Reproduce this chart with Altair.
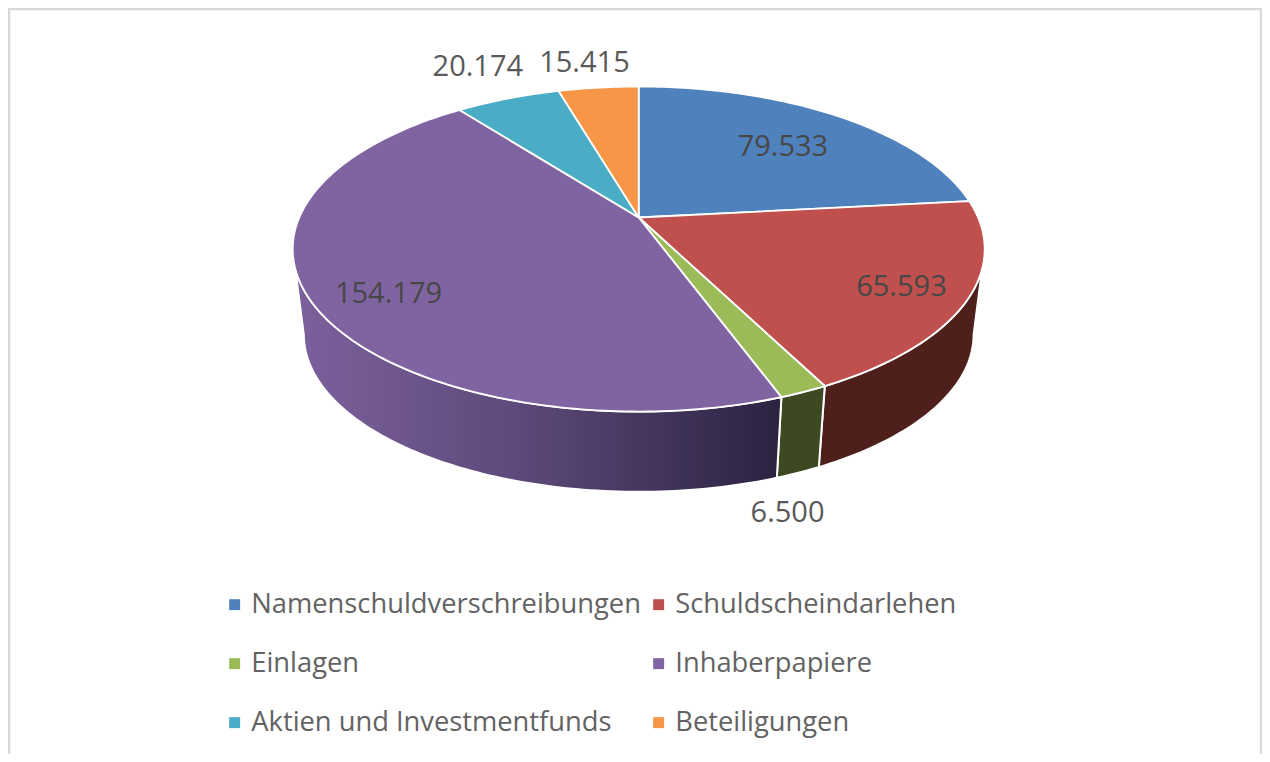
import numpy as np
import pandas as pd
import altair as alt

names = ["Namenschuldverschreibungen", "Schuldscheindarlehen", "Einlagen",
         "Inhaberpapiere", "Aktien und Investmentfunds", "Beteiligungen"]
values = [79533, 65593, 6500, 154179, 20174, 15415]
labels = ["79.533", "65.593", "6.500", "154.179", "20.174", "15.415"]
colors = ["#4f81bd", "#c0504d", "#9bbb59", "#8064a2", "#4bacc6", "#f79646"]
wall_colors = ["#2f4d71", "#4f1f1c", "#3d4a21", None, "#2d6779", "#94592a"]
label_radius = [0.70, 0.82, 1.0, 0.78, 1.0, 1.0]
label_shift_x = [0, -2, -16, 0, -30, -14]
label_shift_y = [3, 3, 121, 13, -32, -25]

# perspective view of the disc
CX, CY_TOP, CY_BOT = 638.7, 217.5, 304.0
A, B, K = 339.4, 156.4, 0.194
SHRINK = 0.968
FONT = "Open Sans"


def project(theta_deg, r=1.0, cy=CY_TOP, s=1.0):
    t = np.radians(theta_deg)
    d = 1 + K * r * np.cos(t)
    return CX + s * A * r * np.sin(t) / d, cy - s * B * r * np.cos(t) / d


total = sum(values)
edges = np.concatenate([[0], np.cumsum(values)]) / total * 360.0
RIGHT_T, LEFT_T = 180 - np.degrees(np.arccos(K)), 180 + np.degrees(np.arccos(K))

tops, walls, texts = [], [], []
for i, name in enumerate(names):
    a0, a1 = edges[i], edges[i + 1]
    th = np.linspace(a0, a1, max(3, int(a1 - a0) + 2))
    xs, ys = project(th)
    px = [CX] + list(xs) + [CX]
    py = [CY_TOP] + list(ys) + [CY_TOP]
    tops.append(pd.DataFrame({"x": px, "y": py, "i": range(len(px)), "name": name}))
    lo, hi = max(a0, RIGHT_T), min(a1, LEFT_T)
    if lo < hi:
        th = np.linspace(lo, hi, int(hi - lo) + 2)
        x1, y1 = project(th)
        x2, y2 = project(th[::-1], cy=CY_BOT, s=SHRINK)
        wx = np.concatenate([x1, x2, x1[:1]])
        wy = np.concatenate([y1, y2, y1[:1]])
        walls.append((i, pd.DataFrame({"x": wx, "y": wy, "i": range(len(wx))})))
    lx, ly = project((a0 + a1) / 2, label_radius[i])
    texts.append({"x": lx + label_shift_x[i], "y": ly + label_shift_y[i], "t": labels[i],
                  "on": label_radius[i] < 1})

W, H = 1254, 746
xs = alt.Scale(domain=[8, 8 + W], nice=False, zero=False)
ys = alt.Scale(domain=[8 + H, 8], nice=False, zero=False)
X = alt.X("x:Q", scale=xs, axis=None)
Y = alt.Y("y:Q", scale=ys, axis=None)

purple_grad = alt.LinearGradient(
    gradient="linear",
    stops=[alt.GradientStop(color="#7c619d", offset=0),
           alt.GradientStop(color="#5e4a7b", offset=0.45),
           alt.GradientStop(color="#2b2240", offset=1)],
    x1=0, x2=1, y1=0, y2=0,
)

layers = []
for i, df in walls:
    fill = purple_grad if wall_colors[i] is None else wall_colors[i]
    layers.append(
        alt.Chart(df).mark_line(filled=True, fill=fill, stroke="#ffffff", strokeWidth=2,
                                strokeJoin="round")
        .encode(x=X, y=Y, order="i:Q")
    )

layers.append(
    alt.Chart(pd.concat(tops)).mark_line(filled=True, stroke="#ffffff", strokeWidth=1.8,
                                         strokeJoin="round")
    .encode(
        x=X, y=Y, order="i:Q",
        fill=alt.Fill(
            "name:N",
            scale=alt.Scale(domain=names, range=colors),
            sort=names,
            legend=alt.Legend(
                title=None, orient="none", legendX=213, legendY=583, columns=2,
                direction="horizontal", symbolType="square", symbolSize=120,
                symbolStrokeWidth=0, labelFont=FONT, labelFontSize=27.3,
                labelColor="#636363", labelLimit=500, labelOffset=3,
                rowPadding=31, columnPadding=4, gridAlign="each",
            ),
        ),
    )
)

tdf = pd.DataFrame(texts)
layers.append(
    alt.Chart(tdf).mark_text(font=FONT, fontSize=29, align="center", baseline="middle")
    .encode(
        x=X, y=Y, text="t:N",
        color=alt.condition("datum.on", alt.value("#474747"), alt.value("#595959")),
    )
)

for enc in [dict(x=alt.value(1), y=alt.value(0), y2=alt.value(H)),
            dict(x=alt.value(W - 1), y=alt.value(0), y2=alt.value(H)),
            dict(y=alt.value(1), x=alt.value(0), x2=alt.value(W))]:
    layers.append(
        alt.Chart(pd.DataFrame({"k": [0]})).mark_rule(color="#d9d9d9", strokeWidth=2.5).encode(**enc)
    )

chart = (
    alt.layer(*layers)
    .properties(width=W, height=H, padding=0, autosize=alt.AutoSizeParams(type="none"))
    .configure_view(stroke=None)
)
chart.save("out.html", embed_options={"renderer": "svg", "actions": False})
